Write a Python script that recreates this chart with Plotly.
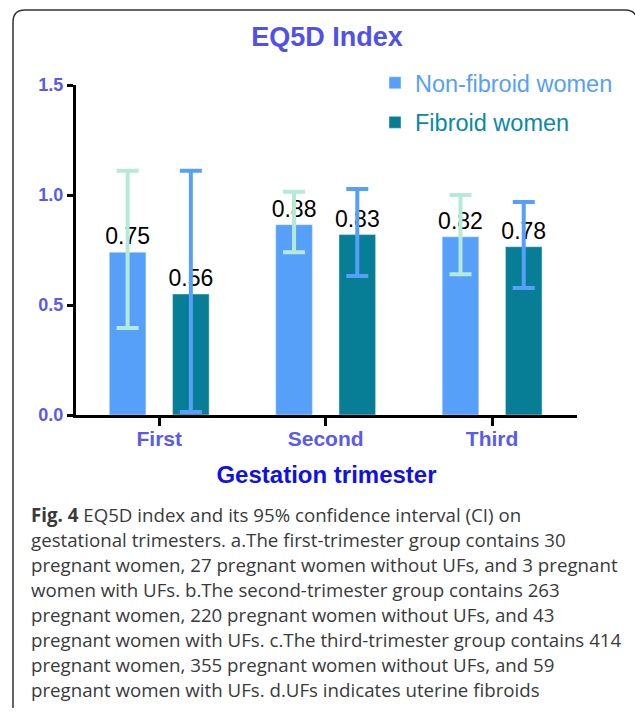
import plotly.graph_objects as go

categories = ["First", "Second", "Third"]
nonfibroid_vals = [0.74, 0.865, 0.81]
fibroid_vals = [0.55, 0.82, 0.765]
nonfibroid_labels = ["0.75", "0.88", "0.82"]
fibroid_labels = ["0.56", "0.83", "0.78"]
nonfibroid_ci_hi = [1.11, 1.015, 1.0]
nonfibroid_ci_lo = [0.395, 0.74, 0.64]
fibroid_ci_hi = [1.11, 1.027, 0.968]
fibroid_ci_lo = [0.014, 0.632, 0.577]
y_ticks = [0, 0.5, 1.0, 1.5]
y_tick_labels = ["0.0", "0.5", "1.0", "1.5"]

caption_lines = [
    "<b>Fig. 4</b> EQ5D index and its 95% confidence interval (CI) on",
    "gestational trimesters. a.The first-trimester group contains 30",
    "pregnant women, 27 pregnant women without UFs, and 3 pregnant",
    "women with UFs. b.The second-trimester group contains 263",
    "pregnant women, 220 pregnant women without UFs, and 43",
    "pregnant women with UFs. c.The third-trimester group contains 414",
    "pregnant women, 355 pregnant women without UFs, and 59",
    "pregnant women with UFs. d.UFs indicates uterine fibroids",
]

C_NF = "#56a0fa"
C_F = "#087d96"
C_NF_ERR = "#b6ead8"
C_F_ERR = "#56a0fa"
FONT = "Liberation Sans, Arial"

W, H = 635, 712
L, R, T, B = 76, 58, 85, 297
pw, ph = W - L - R, H - T - B


def px2paper(x, y):
    return (x - L) / pw, (H - B - y) / ph


fig = go.Figure()
fig.add_trace(go.Bar(
    x=categories, y=nonfibroid_vals, name="<span style='color:#56a0fa'>Non-fibroid women</span>",
    marker_color=C_NF, width=0.22, offset=-0.30,
    text=nonfibroid_labels, textposition="outside", constraintext="none", cliponaxis=False,
    textfont=dict(family=FONT, size=23, color="black"),
    error_y=dict(type="data", symmetric=False,
                 array=[h - v for h, v in zip(nonfibroid_ci_hi, nonfibroid_vals)],
                 arrayminus=[v - l for l, v in zip(nonfibroid_ci_lo, nonfibroid_vals)],
                 color=C_NF_ERR, thickness=4, width=11),
    legendgroup="a",
))
fig.add_trace(go.Bar(
    x=categories, y=fibroid_vals, name="<span style='color:#0a8aa2'>Fibroid women</span>",
    marker_color=C_F, width=0.22, offset=0.08,
    text=fibroid_labels, textposition="outside", constraintext="none", cliponaxis=False,
    textfont=dict(family=FONT, size=23, color="black"),
    error_y=dict(type="data", symmetric=False,
                 array=[h - v for h, v in zip(fibroid_ci_hi, fibroid_vals)],
                 arrayminus=[v - l for l, v in zip(fibroid_ci_lo, fibroid_vals)],
                 color=C_F_ERR, thickness=4, width=11),
    legendgroup="b",
))

# frame
x0, y0 = px2paper(13, 708)
x1, y1 = px2paper(13, 22)
x2, y2 = px2paper(25, 10)
x3, y3 = px2paper(625, 10)
x4, y4 = px2paper(637, 22)
x5, y5 = px2paper(637, 712)
xc1, yc1 = px2paper(13, 10)
xc2, yc2 = px2paper(637, 10)
fig.add_shape(type="path", xref="paper", yref="paper",
              path=f"M{x0},{y0} L{x1},{y1} Q{xc1},{yc1} {x2},{y2} L{x3},{y3} Q{xc2},{yc2} {x4},{y4} L{x5},{y5}",
              line=dict(color="#333333", width=1.5))

annotations = []
for i, line in enumerate(caption_lines):
    ax, ay = px2paper(29, 500 + i * 25)
    annotations.append(dict(text=line, xref="paper", yref="paper", x=ax, y=ay,
                            xanchor="left", yanchor="top", showarrow=False,
                            font=dict(family="Open Sans", size=18.7, color="#3a3a3a")))
fig.update_layout(annotations=annotations)

fig.update_layout(
    width=W, height=H,
    margin=dict(l=L, r=R, t=T, b=B),
    paper_bgcolor="white", plot_bgcolor="white",
    title=dict(text="<b>EQ5D Index</b>", x=327 / W, xanchor="center", y=1 - 37 / H, yanchor="middle",
               font=dict(family=FONT, size=27, color="#5050ea")),
    showlegend=True,
    legend=dict(x=px2paper(375, 0)[0], y=px2paper(0, 61)[1], xanchor="left", yanchor="top",
                font=dict(family=FONT, size=23.5), tracegroupgap=6,
                bgcolor="rgba(0,0,0,0)"),
    xaxis=dict(range=[-0.50, 2.51], showline=True, linecolor="black", linewidth=3,
               ticks="outside", ticklen=8, tickwidth=3, tickcolor="black",
               tickfont=dict(family=FONT, size=21, color="#5a5af0"), ticklabelstandoff=-5,
               tickprefix="<b>", ticksuffix="</b>", showgrid=False, zeroline=False,
               title=dict(text="<b>Gestation trimester</b>", standoff=17,
                          font=dict(family=FONT, size=24, color="#1010e8"))),
    yaxis=dict(range=[0, 1.5], tickvals=y_ticks, ticktext=[f"<b>{t}</b>" for t in y_tick_labels],
               showline=True, linecolor="black", linewidth=3,
               ticks="outside", ticklen=6, tickwidth=3, tickcolor="black",
               tickfont=dict(family=FONT, size=18, color="#5a5af0"),
               showgrid=False, zeroline=False),
)

fig.write_html("out.html", config={"displayModeBar": False},
               post_script="document.body.style.margin='0';document.body.style.overflow='hidden';")
